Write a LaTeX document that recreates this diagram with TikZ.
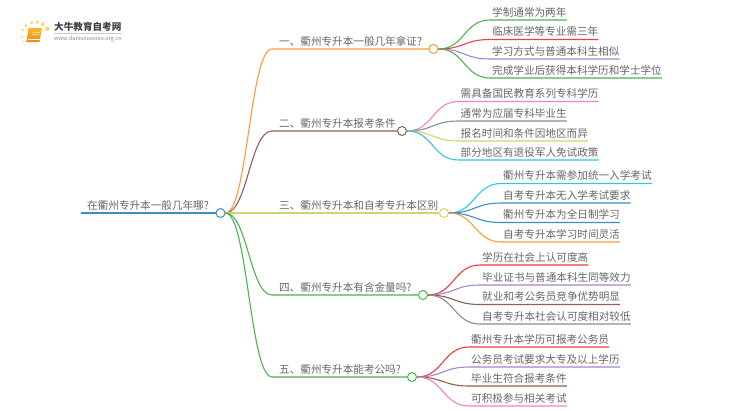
\documentclass[tikz,border=0pt]{standalone}
\usepackage{fontspec}
\setmainfont{Noto Sans CJK SC}

\definecolor{c_orange}{HTML}{FF9A3C}
\definecolor{c_brown}{HTML}{8D5F55}
\definecolor{c_olive}{HTML}{D4D46A}
\definecolor{c_green}{HTML}{4DB34D}
\definecolor{c_blue}{HTML}{3D8CC4}
\definecolor{c_purple}{HTML}{AB82D0}
\definecolor{c_red}{HTML}{E8403F}
\definecolor{c_pink}{HTML}{EE82D0}
\definecolor{c_gray}{HTML}{8C8C8C}
\definecolor{c_cyan}{HTML}{2EC9DD}
\definecolor{c_text}{HTML}{666666}
\definecolor{c_sun}{HTML}{FFD76E}
\definecolor{c_booktop}{HTML}{FFB833}
\definecolor{c_bookbot}{HTML}{F08A10}

\begin{document}
\begin{tikzpicture}[x=1pt,y=-1pt,font=\fontsize{10.6pt}{12pt}\selectfont]
    \tikzstyle{hub}=[circle,draw,fill=white,line width=1pt,minimum size=9pt,inner sep=0pt]
    \tikzstyle{label}=[anchor=south west,text=c_text,text height=9.5pt,text depth=2.5pt,inner ysep=1pt,inner xsep=0pt]
    \tikzstyle{leafline}=[line width=1.1pt]
    \tikzstyle{branchline}=[line width=1.1pt]
    \useasboundingbox (0,0) rectangle (750,410);
    % logo
    \foreach \px/\py/\pr in {22.7/30/1.3,26/25.7/1.6,31.7/22.7/1.8,37.3/22/1.9,42.7/24.3/2,47.3/28.7/2.2,22/36.7/1.1,23.3/42/0.9}
      \fill[c_sun] (\px,\py) circle (\pr);
    \shade[top color=c_booktop,bottom color=c_bookbot] (28.5,28) -- (42,28) -- (39.5,42) -- (26.5,42) -- cycle;
    \draw[white,line width=0.6pt] (27.5,39.5) -- (39.5,39.5);
    \draw[c_booktop!60!white,line width=0.6pt] (32,32) -- (39.5,32) (31.5,34.5) -- (39,34.5);
    \node[anchor=west,inner sep=0pt,text=black!75,font=\fontsize{9.6pt}{10pt}\selectfont\bfseries] (logo_name) at (54,27) {大牛教育自考网};
    \node[anchor=west,inner sep=0pt,text=c_gray,font=\fontsize{5.6pt}{6pt}\selectfont] (logo_url) at (54,38.5) {www.daniuxuexiao.org.cn};
    \draw[black!20,line width=0.4pt] (54,33) -- (121,33);

    % hubs
    \node[hub,draw=c_blue] (hub_0) at (220.5,213) {};
    \node[hub,draw=c_orange] (hub_1) at (433.5,49) {};
    \node[hub,draw=c_brown] (hub_2) at (402,131) {};
    \node[hub,draw=c_olive] (hub_3) at (444,213) {};
    \node[hub,draw=c_green] (hub_4) at (423,295) {};
    \node[hub,draw=c_green] (hub_5) at (412,377) {};

    % root
    \node[label,inner xsep=6pt] (root) at (81,213) {在衢州专升本一般几年哪?};
    \draw[c_blue,line width=1.7pt] (root.south west) -- (hub_0.west);

    % branches
    \node[label,inner xsep=7pt] (branch_1) at (272,49) {一、衢州专升本一般几年拿证?};
    \node[label,inner xsep=7pt] (branch_2) at (272,131) {二、衢州专升本报考条件};
    \node[label,inner xsep=7pt] (branch_3) at (272,213) {三、衢州专升本和自考专升本区别};
    \node[label,inner xsep=7pt] (branch_4) at (272,295) {四、衢州专升本有含金量吗?};
    \node[label,inner xsep=7pt] (branch_5) at (272,377) {五、衢州专升本能考公吗?};
    \draw[branchline,c_orange] (hub_0.east) .. controls +(22,0) and +(-22,0) .. (branch_1.south west) -- (hub_1.west);
    \draw[branchline,c_brown] (hub_0.east) .. controls +(22,0) and +(-22,0) .. (branch_2.south west) -- (hub_2.west);
    \draw[branchline,c_olive,line width=1.5pt] (hub_0.east) -- (hub_3.west);
    \draw[branchline,c_green] (hub_0.east) .. controls +(22,0) and +(-22,0) .. (branch_4.south west) -- (hub_4.west);
    \draw[branchline,c_green] (hub_0.east) .. controls +(22,0) and +(-22,0) .. (branch_5.south west) -- (hub_5.west);

    % leaves of branch 1
    \node[label] (leaf_11) at (490,20) {\hspace{2pt}学制通常为两年\hspace{8pt}};
    \node[label] (leaf_12) at (490,39.5) {\hspace{2pt}临床医学等专业需三年\hspace{8pt}};
    \node[label] (leaf_13) at (490,59) {\hspace{2pt}学习方式与普通本科生相似\hspace{8pt}};
    \node[label] (leaf_14) at (490,78) {\hspace{2pt}完成学业后获得本科学历和学士学位\hspace{8pt}};
    \draw[leafline,c_green] (hub_1.east) .. controls +(26,0) and +(-26,0) .. (leaf_11.south west) -- (leaf_11.south east);
    \draw[leafline,c_red] (hub_1.east) .. controls +(26,0) and +(-26,0) .. (leaf_12.south west) -- (leaf_12.south east);
    \draw[leafline,c_purple] (hub_1.east) .. controls +(26,0) and +(-26,0) .. (leaf_13.south west) -- (leaf_13.south east);
    \draw[leafline,c_green] (hub_1.east) .. controls +(26,0) and +(-26,0) .. (leaf_14.south west) -- (leaf_14.south east);

    % leaves of branch 2
    \node[label] (leaf_21) at (458.5,101.5) {\hspace{2pt}需具备国民教育系列专科学历\hspace{8pt}};
    \node[label] (leaf_22) at (458.5,121) {\hspace{2pt}通常为应届专科毕业生\hspace{8pt}};
    \node[label] (leaf_23) at (458.5,141) {\hspace{2pt}报名时间和条件因地区而异\hspace{8pt}};
    \node[label] (leaf_24) at (458.5,160) {\hspace{2pt}部分地区有退役军人免试政策\hspace{8pt}};
    \draw[leafline,c_pink] (hub_2.east) .. controls +(26,0) and +(-26,0) .. (leaf_21.south west) -- (leaf_21.south east);
    \draw[leafline,c_gray] (hub_2.east) .. controls +(26,0) and +(-26,0) .. (leaf_22.south west) -- (leaf_22.south east);
    \draw[leafline,c_olive] (hub_2.east) .. controls +(26,0) and +(-26,0) .. (leaf_23.south west) -- (leaf_23.south east);
    \draw[leafline,c_cyan] (hub_2.east) .. controls +(26,0) and +(-26,0) .. (leaf_24.south west) -- (leaf_24.south east);

    % leaves of branch 3
    \node[label] (leaf_31) at (501,183.5) {\hspace{2pt}衢州专升本需参加统一入学考试\hspace{8pt}};
    \node[label] (leaf_32) at (501,203) {\hspace{2pt}自考专升本无入学考试要求\hspace{8pt}};
    \node[label] (leaf_33) at (501,222.5) {\hspace{2pt}衢州专升本为全日制学习\hspace{8pt}};
    \node[label] (leaf_34) at (501,242) {\hspace{2pt}自考专升本学习时间灵活\hspace{8pt}};
    \draw[leafline,c_cyan] (hub_3.east) .. controls +(26,0) and +(-26,0) .. (leaf_31.south west) -- (leaf_31.south east);
    \draw[leafline,c_blue] (hub_3.east) .. controls +(26,0) and +(-26,0) .. (leaf_32.south west) -- (leaf_32.south east);
    \draw[leafline,c_blue] (hub_3.east) .. controls +(26,0) and +(-26,0) .. (leaf_33.south west) -- (leaf_33.south east);
    \draw[leafline,c_orange] (hub_3.east) .. controls +(26,0) and +(-26,0) .. (leaf_34.south west) -- (leaf_34.south east);

    % leaves of branch 4
    \node[label] (leaf_41) at (480,265) {\hspace{2pt}学历在社会上认可度高\hspace{8pt}};
    \node[label] (leaf_42) at (480,285) {\hspace{2pt}毕业证书与普通本科生同等效力\hspace{8pt}};
    \node[label] (leaf_43) at (480,304.5) {\hspace{2pt}就业和考公务员竞争优势明显\hspace{8pt}};
    \node[label] (leaf_44) at (480,324) {\hspace{2pt}自考专升本社会认可度相对较低\hspace{8pt}};
    \draw[leafline,c_red] (hub_4.east) .. controls +(26,0) and +(-26,0) .. (leaf_41.south west) -- (leaf_41.south east);
    \draw[leafline,c_purple] (hub_4.east) .. controls +(26,0) and +(-26,0) .. (leaf_42.south west) -- (leaf_42.south east);
    \draw[leafline,c_brown] (hub_4.east) .. controls +(26,0) and +(-26,0) .. (leaf_43.south west) -- (leaf_43.south east);
    \draw[leafline,c_gray] (hub_4.east) .. controls +(26,0) and +(-26,0) .. (leaf_44.south west) -- (leaf_44.south east);

    % leaves of branch 5
    \node[label] (leaf_51) at (469,347) {\hspace{2pt}衢州专升本学历可报考公务员\hspace{8pt}};
    \node[label] (leaf_52) at (469,367) {\hspace{2pt}公务员考试要求大专及以上学历\hspace{8pt}};
    \node[label] (leaf_53) at (469,386) {\hspace{2pt}毕业生符合报考条件\hspace{8pt}};
    \node[label] (leaf_54) at (469,406) {\hspace{2pt}可积极参与相关考试\hspace{8pt}};
    \draw[leafline,c_red] (hub_5.east) .. controls +(26,0) and +(-26,0) .. (leaf_51.south west) -- (leaf_51.south east);
    \draw[leafline,c_purple] (hub_5.east) .. controls +(26,0) and +(-26,0) .. (leaf_52.south west) -- (leaf_52.south east);
    \draw[leafline,c_brown] (hub_5.east) .. controls +(26,0) and +(-26,0) .. (leaf_53.south west) -- (leaf_53.south east);
    \draw[leafline,c_pink] (hub_5.east) .. controls +(26,0) and +(-26,0) .. (leaf_54.south west) -- (leaf_54.south east);
  \end{tikzpicture}
\end{document}
